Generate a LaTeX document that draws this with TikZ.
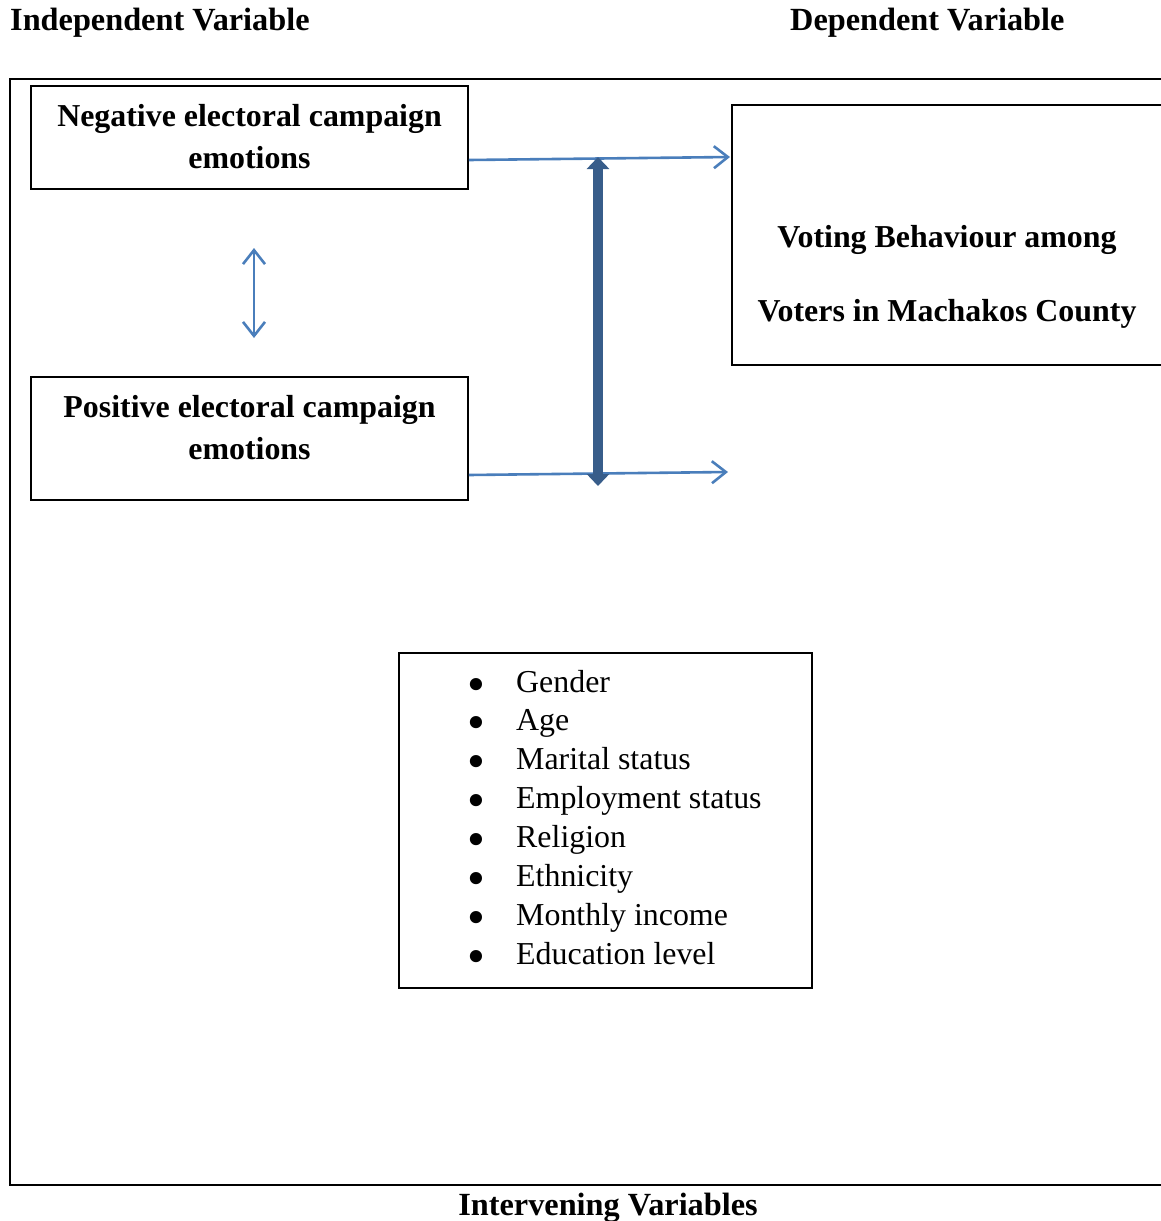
\documentclass[tikz,border=0pt]{standalone}
\usepackage{fontspec}
\usepackage{graphicx}
\setmainfont{Liberation Serif}
\usetikzlibrary{arrows.meta}
\definecolor{linkblue}{HTML}{4A7EBB}
\definecolor{darkblue}{HTML}{385D8A}
\tikzset{
  boxnode/.style={draw=black, line width=1.6pt, inner sep=0pt},
  headtext/.style={font=\fontsize{32.3}{42}\selectfont\bfseries, inner sep=0pt, anchor=base west},
  boxtext/.style={font=\fontsize{31.9}{42}\selectfont\bfseries, inner sep=0pt, align=center},
  itemtext/.style={font=\fontsize{31.9}{39}\selectfont, inner sep=0pt, anchor=base west},
  thinarrow/.style={draw=linkblue, line width=2.6pt, -{Straight Barb[length=14pt,width=22pt,line width=2.6pt]}},
  thinboth/.style={draw=linkblue, line width=2.6pt, {Straight Barb[length=14pt,width=22pt,line width=2.6pt]}-{Straight Barb[length=14pt,width=22pt,line width=2.6pt]}},
  thickboth/.style={draw=darkblue, line width=10pt, {Triangle[length=12pt,width=22pt]}-{Triangle[length=12pt,width=22pt]}}
}
\begin{document}
\begin{tikzpicture}[x=1pt,y=-1pt]
\useasboundingbox (0,0) rectangle (1160,1221);
% outer frame
\draw[line width=2.4pt] (1166,79) -- (10,79) -- (10,1185) -- (1166,1185);
% headers
\node[headtext] (indep) at (10,30) {Independent Variable};
\node[headtext] (dep) at (790,30) {Dependent Variable};
\node[font=\fontsize{32.3}{42}\selectfont\bfseries, inner sep=0pt, anchor=base] (interv) at (608,1215) {Intervening Variables};
% boxes
\node[boxnode, minimum width=437pt, minimum height=103pt] (neg) at (249.5,137.5) {};
\node[boxtext] (negt) at (249.5,137) {Negative electoral campaign\\emotions};
\node[boxnode, minimum width=437pt, minimum height=123pt] (pos) at (249.5,438.5) {};
\node[boxtext] (post) at (249.5,428) {Positive electoral campaign\\emotions};
\node[boxnode, minimum width=432pt, minimum height=260pt] (depbox) at (948,235) {};
\node[boxtext, font=\fontsize{31.9}{74}\selectfont\bfseries] (dept) at (947,277) {Voting Behaviour among\\Voters in Machakos County};
\node[boxnode, minimum width=413pt, minimum height=335pt] (intbox) at (605.5,820.5) {};
% list
\foreach \t [count=\i] in {Gender,Age,Marital status,Employment status,Religion,Ethnicity,Monthly income,Education level}{
  \node[itemtext] (item\i) at (467,{692+(\i-1)*38.9}) {\makebox[49pt][l]{\smash{\raisebox{-9pt}{\scalebox{1.6}{•}}}}\t};
}
% arrow end coordinates
\coordinate (topend) at (730,157);
\coordinate (botend) at (728,472);
\coordinate (vtop) at (598,157);
\coordinate (vbot) at (598,486);
\coordinate (dtop) at (254,248);
\coordinate (dbot) at (254,338);
\draw[thinarrow] (neg.east |- 0,160) -- (topend);
\draw[thinarrow] (pos.east |- 0,475) -- (botend);
\draw[thickboth] (vtop) -- (vbot);
\draw[thinboth] (dtop) -- (dbot);
\end{tikzpicture}
\end{document}
